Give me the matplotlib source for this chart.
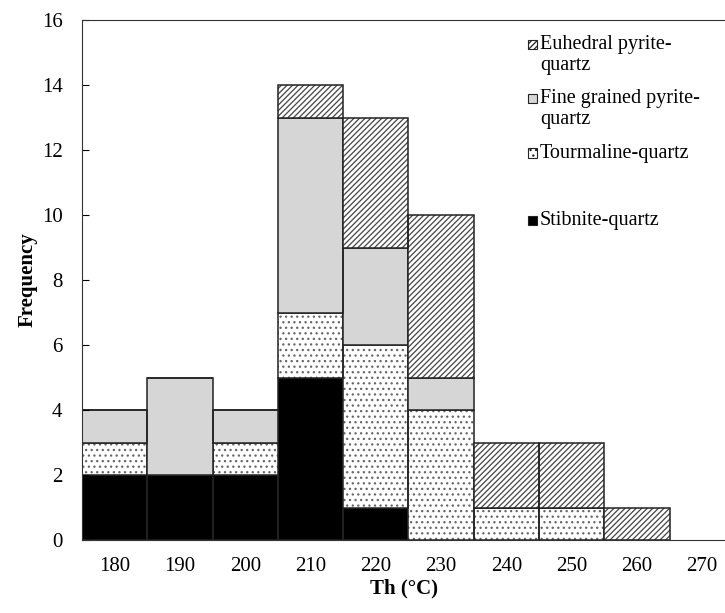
import numpy as np
import matplotlib
matplotlib.use('Agg')
import matplotlib.pyplot as plt
from matplotlib.patches import Rectangle

plt.rcParams['font.family'] = ['Liberation Serif', 'DejaVu Serif']
plt.rcParams['hatch.linewidth'] = 0.9

# bin centres (Th, °C)
th = [180, 190, 200, 210, 220, 230, 240, 250, 260]
stibnite = [2, 2, 2, 5, 1, 0, 0, 0, 0]
tourmaline = [1, 0, 1, 2, 5, 4, 1, 1, 0]
fine_grained = [1, 3, 1, 6, 3, 1, 0, 0, 0]
euhedral = [0, 0, 0, 1, 4, 5, 2, 2, 1]

names = ['Stibnite-quartz', 'Tourmaline-quartz',
         'Fine grained pyrite-\nquartz', 'Euhedral pyrite-\nquartz']
styles = [
    dict(facecolor='black', hatch=None, hc='black'),
    dict(facecolor='white', hatch='...', hc='#666666'),
    dict(facecolor='#d6d6d6', hatch=None, hc='#d6d6d6'),
    dict(facecolor='white', hatch='//////', hc='#444444'),
]

fig = plt.figure(figsize=(7.25, 6.13), dpi=100)
ax = fig.add_axes([82/725, 73/613, 1 - 82/725, 520/613])

bottom = np.zeros(len(th))
for vals, st in zip([stibnite, tourmaline, fine_grained, euhedral], styles):
    v = np.array(vals, dtype=float)
    # fill + hatch
    ax.bar(th, v, width=10, bottom=bottom, color=st['facecolor'], hatch=st['hatch'],
           edgecolor=st['hc'], linewidth=0)
    # outline
    ax.bar(th, v, width=10, bottom=bottom, fill=False, edgecolor='#222222', linewidth=1.1)
    bottom += v

ax.set_xlim(175, 273.5)
ax.set_ylim(0, 16)
ax.set_xticks(range(180, 271, 10))
ax.set_yticks(range(0, 17, 2))
ax.tick_params(axis='x', length=0, labelsize=15, pad=12)
ax.tick_params(axis='y', direction='in', length=5, labelsize=15, pad=14)
ax.spines['right'].set_visible(False)
for s in ['left', 'top', 'bottom']:
    ax.spines[s].set_color('#333333')

ax.set_xlabel('Th (°C)', fontsize=15, fontweight='bold', labelpad=2)
ax.set_ylabel('Frequency', fontsize=15, fontweight='bold', labelpad=3)

# legend (handles aligned with the first line of each label, as in the original)
leg_order = [3, 2, 1, 0]
leg_y = [0.953, 0.849, 0.744, 0.615]
for i, y in zip(leg_order, leg_y):
    st = styles[i]
    ax.add_patch(Rectangle((0.694, y - 0.009), 0.014, 0.018, transform=ax.transAxes,
                           facecolor=st['facecolor'], hatch=st['hatch'],
                           edgecolor='#222222', linewidth=0.8, clip_on=False))
    ax.text(0.712, y + 0.018, names[i], transform=ax.transAxes, fontsize=14.5,
            va='top', ha='left', linespacing=1.12)

fig.savefig('out.png', dpi=100)
